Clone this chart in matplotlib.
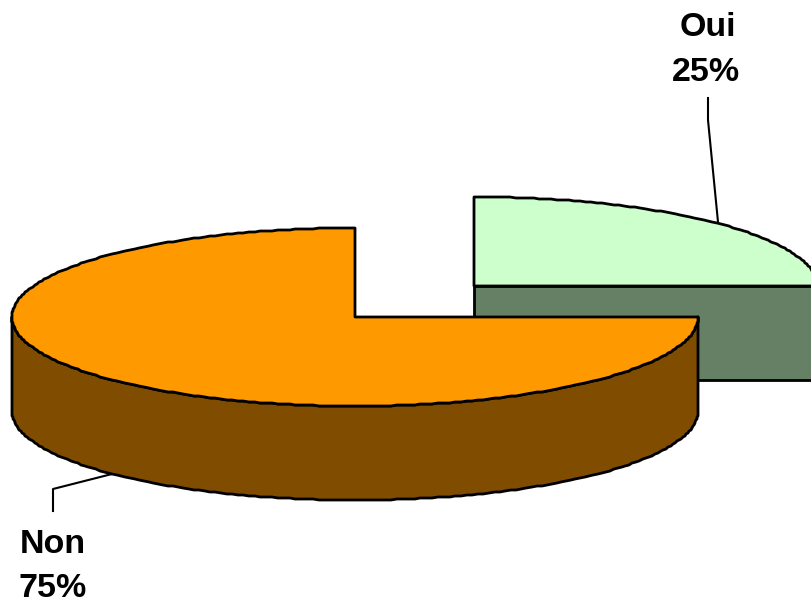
#!/usr/bin/env python3
"""Exploded 3D-style pie: Oui / Non."""

import matplotlib
matplotlib.use("Agg")
import matplotlib.pyplot as plt
import numpy as np
from matplotlib.patches import Polygon

labels = ["Oui", "Non"]
shares = [25, 75]

TOP_COLORS = ["#CCFFCC", "#FF9900"]
SIDE_COLORS = ["#668066", "#804D00"]
CENTERS = [(474, 286), (355, 317)]
RX, RY = 343, 89
DEPTH = 94
EDGE = 2.0

plt.rcParams["font.family"] = ["Liberation Sans", "DejaVu Sans"]


def rim(cx, cy, start, end):
    # angles in degrees clockwise from 12 o'clock; rim is kept on whole pixels
    n = max(2, int(abs(end - start)) + 1)
    t = np.radians(np.linspace(start, end, n))
    return np.column_stack([np.round(cx + RX * np.sin(t)), np.round(cy - RY * np.cos(t))])


def poly(ax, pts, color, z):
    ax.add_patch(Polygon(pts, closed=True, facecolor=color, edgecolor="black",
                         linewidth=EDGE, joinstyle="round", zorder=z))


fig = plt.figure(figsize=(8.11, 6.03), dpi=100)
ax = fig.add_axes([0, 0, 1, 1])
ax.set_xlim(0, 811)
ax.set_ylim(603, 0)
ax.axis("off")

start = 0.0
for i, share in enumerate(shares):
    end = start + 360.0 * share / sum(shares)
    cx, cy = CENTERS[i]
    z = 2 + i * 2
    # front wall only exists between 3 o'clock and 9 o'clock
    lo, hi = max(start, 90), min(end, 270)
    if hi > lo:
        front = rim(cx, cy, lo, hi)
        poly(ax, np.vstack([front, front[::-1] + [0, DEPTH]]), SIDE_COLORS[i], z)
    # cut face running from the centre to the end of the slice
    if end <= 90:
        edge = rim(cx, cy, end, end)[0]
        poly(ax, [(cx, cy), edge, edge + [0, DEPTH], (cx, cy + DEPTH)], SIDE_COLORS[i], z)
    poly(ax, np.vstack([[(cx, cy)], rim(cx, cy, start, end)]), TOP_COLORS[i], z + 1)
    start = end

# leader lines
ax.plot([708, 708, 718], [98, 120, 222], color="black", lw=1.5, zorder=1)
ax.plot([53, 53, 112], [511, 489, 474], color="black", lw=1.5, zorder=1)

# labels sit on two lines, share below name
ax.text(708, 36, labels[0], ha="center", va="baseline", fontsize=24.5, weight="bold")
ax.text(706, 81, f"{shares[0]}%", ha="center", va="baseline", fontsize=24.5, weight="bold")
ax.text(53, 553, labels[1], ha="center", va="baseline", fontsize=24.5, weight="bold")
ax.text(53, 597, f"{shares[1]}%", ha="center", va="baseline", fontsize=24.5, weight="bold")

fig.savefig("out.png", dpi=100, facecolor="white")
